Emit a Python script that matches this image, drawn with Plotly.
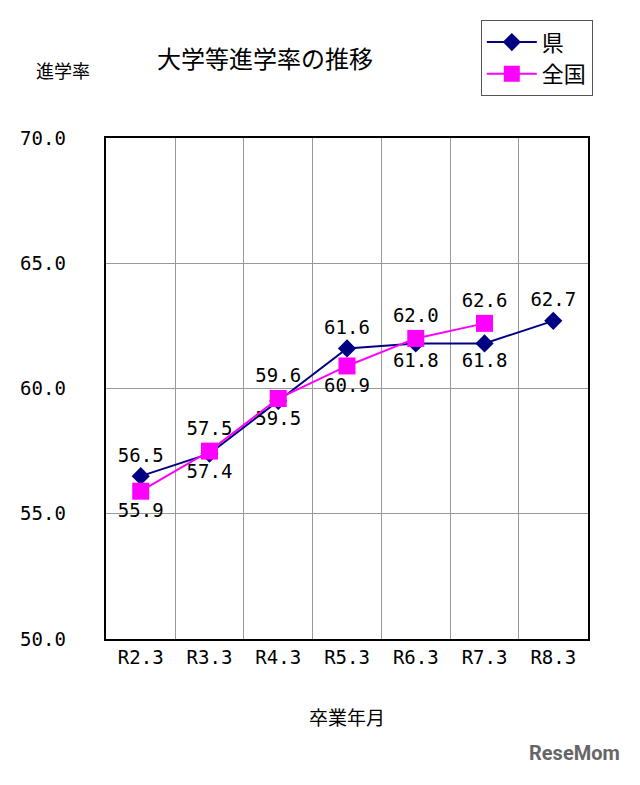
import plotly.graph_objects as go

years = ["R2.3", "R3.3", "R4.3", "R5.3", "R6.3", "R7.3", "R8.3"]
pref = [56.5, 57.4, 59.5, 61.6, 61.8, 61.8, 62.7]
national = [55.9, 57.5, 59.6, 60.9, 62.0, 62.6, None]
pref_pos = ["top center", "bottom center", "bottom center", "top center",
            "bottom center", "bottom center", "top center"]
nat_pos = ["bottom center", "top center", "top center", "bottom center",
           "top center", "top center", "top center"]

FONT = "Noto Sans CJK JP"
NUM = "DejaVu Sans Mono"

fig = go.Figure()
fig.add_trace(go.Scatter(
    x=years, y=pref, name="県", mode="lines+markers+text",
    line=dict(color="#000080", width=2),
    marker=dict(symbol="diamond", size=14, color="#000080"),
    text=[f"{v:.1f}" for v in pref], textposition=pref_pos,
    textfont=dict(size=19, color="black", family=NUM),
))
fig.add_trace(go.Scatter(
    x=years, y=national, name="全国", mode="lines+markers+text",
    line=dict(color="#FF00FF", width=2),
    marker=dict(symbol="square", size=17, color="#FF00FF"),
    text=[f"{v:.1f}" if v is not None else "" for v in national],
    textposition=nat_pos,
    textfont=dict(size=19, color="black", family=NUM),
))

fig.update_layout(
    width=640, height=785,
    paper_bgcolor="white", plot_bgcolor="white",
    margin=dict(l=98, r=60, t=126, b=154),
    font=dict(family=FONT, color="black", size=18),
    showlegend=True,
    legend=dict(x=1.01, xanchor="right", y=1.235, yanchor="top",
                bordercolor="#555555", borderwidth=1, bgcolor="white",
                font=dict(size=22), itemwidth=50, tracegroupgap=0),
    annotations=[
        dict(text="大学等進学率の推移", x=0.33, y=1.2, xref="paper", yref="paper",
             showarrow=False, font=dict(size=24), xanchor="center"),
        dict(text="進学率", x=-0.09, y=1.165, xref="paper", yref="paper",
             showarrow=False, font=dict(size=18), xanchor="center"),
        dict(text="卒業年月", x=0.5, y=-0.185, xref="paper", yref="paper",
             showarrow=False, font=dict(size=19), xanchor="center"),
        dict(text="<b>ReseMom</b>", x=1.07, y=-0.255, xref="paper", yref="paper",
             showarrow=False, font=dict(size=20, color="#666666", family="Roboto"),
             xanchor="right"),
    ],
)
fig.update_xaxes(type="category", tickson="boundaries", showgrid=True,
                 gridcolor="#999999", showline=True, linecolor="black", linewidth=2,
                 mirror=True, ticks="", tickfont=dict(size=19, family=NUM))
fig.update_yaxes(range=[50, 70], dtick=5, tickformat=".1f", showgrid=True,
                 gridcolor="#999999", showline=True, linecolor="black", linewidth=2,
                 mirror=True, ticks="", zeroline=False,
                 tickfont=dict(size=19, family=NUM), ticksuffix="   ")

fig.write_html("out.html")
